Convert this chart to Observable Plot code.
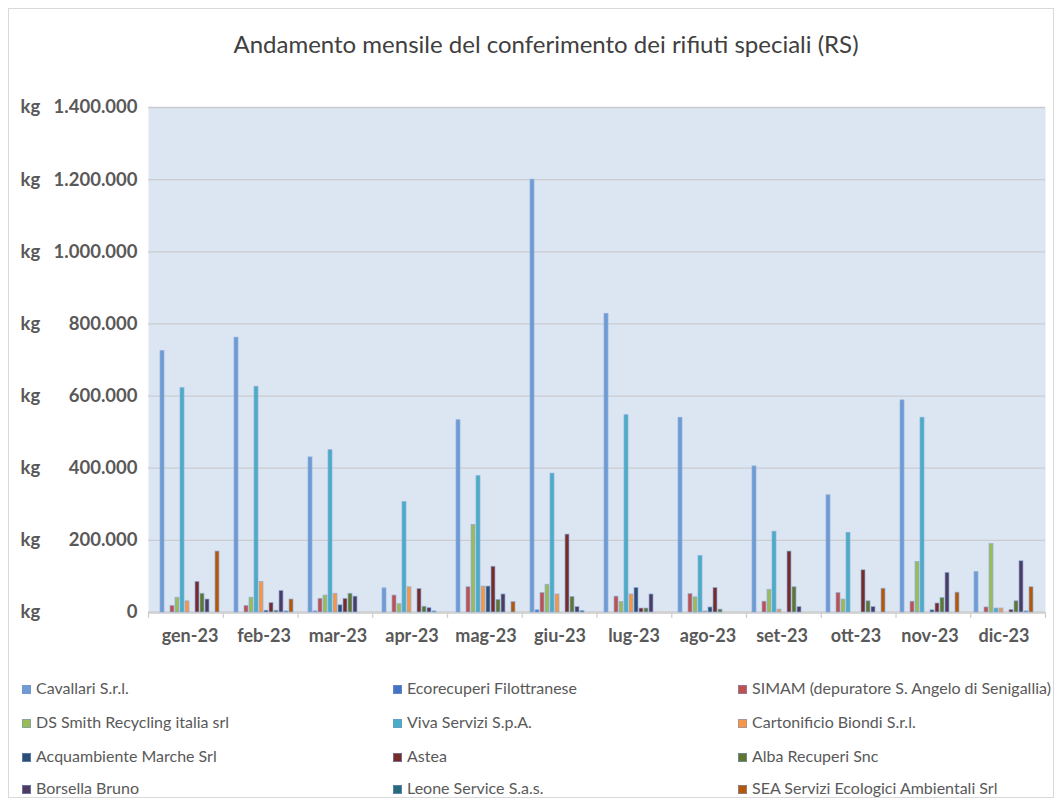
<!DOCTYPE html>
<html>
<head>
<meta charset="utf-8">
<script src="https://cdn.jsdelivr.net/npm/d3@7"></script>
<script src="https://cdn.jsdelivr.net/npm/@observablehq/plot@0.6"></script>
<style>
  html, body { margin: 0; padding: 0; background: #fff; }
  #page { position: relative; width: 1064px; height: 809px; font-family: Lato, "Liberation Sans", sans-serif; }
  #card { position: absolute; left: 8px; top: 8px; width: 1046px; height: 790px; border: 1px solid #d9d9d9; box-sizing: border-box; }
  #title { position: absolute; left: 14px; width: 1064px; top: 30px; text-align: center; font-size: 24px; line-height: 28px; color: #404040; }
  .layer { position: absolute; left: 0; top: 0; }
  .layer svg { background: transparent !important; }
  #legend { position: absolute; left: 0; top: 0; width: 1064px; }
  .li { position: absolute; font-size: 16px; color: #595959; white-space: nowrap; line-height: 18px; }
  .sw { display: inline-block; width: 9px; height: 9px; margin-right: 5px; vertical-align: 0px; box-sizing: border-box; border: 0.5px solid rgba(120,150,200,0.6); }
</style>
</head>
<body>
<div id="page">
  <div id="card"></div>
  <div id="title">Andamento mensile del conferimento dei rifiuti speciali (RS)</div>
  <div id="bg" class="layer"></div>
  <div id="bars" class="layer"></div>
  <div id="legend"></div>
</div>
<script>
const months = ["gen-23","feb-23","mar-23","apr-23","mag-23","giu-23","lug-23","ago-23","set-23","ott-23","nov-23","dic-23"];
const series = [
  "Cavallari S.r.l.",
  "Ecorecuperi Filottranese",
  "SIMAM (depuratore S. Angelo di Senigallia)",
  "DS Smith Recycling italia srl",
  "Viva Servizi S.p.A.",
  "Cartonificio Biondi S.r.l.",
  "Acquambiente Marche Srl",
  "Astea",
  "Alba Recuperi Snc",
  "Borsella Bruno",
  "Leone Service S.a.s.",
  "SEA Servizi Ecologici Ambientali Srl"
];
const colors = ["#6f9bd4","#4472c4","#c0504d","#9bbb59","#4bacc6","#f79646","#2c4d75","#772c2a","#5f7530","#4d3b62","#276a7c","#b65708"];
const yTicks = [0, 200000, 400000, 600000, 800000, 1000000, 1200000, 1400000];

const cavallari    = [725000, 762000, 430000, 67000, 533000, 1200000, 828000, 540000, 405000, 325000, 588000, 112000];
const ecorecuperi  = [0, 0, 3000, 0, 0, 6000, 0, 0, 0, 0, 0, 0];
const simam        = [18000, 18000, 38000, 47000, 70000, 54000, 44000, 51000, 30000, 54000, 30000, 14000];
const dsSmith      = [41000, 41000, 47000, 23000, 243000, 77000, 29000, 42000, 63000, 36000, 140000, 190000];
const viva         = [622000, 626000, 450000, 306000, 378000, 385000, 547000, 157000, 224000, 221000, 540000, 11000];
const cartonificio = [31000, 85000, 52000, 70000, 72000, 50000, 50000, 3000, 8000, 0, 0, 11000];
const acquambiente = [0, 5000, 20000, 0, 72000, 0, 68000, 14000, 0, 0, 6000, 0];
const astea        = [85000, 26000, 38000, 65000, 127000, 216000, 11000, 68000, 169000, 117000, 25000, 7000];
const alba         = [52000, 5000, 52000, 16000, 35000, 43000, 11000, 8000, 70000, 31000, 40000, 31000];
const borsella     = [36000, 60000, 44000, 12000, 50000, 15000, 50000, 0, 15000, 15000, 110000, 142000];
const leone        = [0, 3000, 0, 3000, 0, 4000, 0, 0, 0, 0, 0, 3000];
const sea          = [169000, 36000, 0, 0, 29000, 0, 0, 0, 0, 66000, 55000, 70000];

const valueLists = [cavallari, ecorecuperi, simam, dsSmith, viva, cartonificio, acquambiente, astea, alba, borsella, leone, sea];

const data = [];
series.forEach((s, si) => months.forEach((m, mi) => {
  const v = valueLists[si][mi];
  if (v > 0) data.push({month: m, series: s, value: v});
}));

const itLocale = d3.formatLocale({decimal: ",", thousands: ".", grouping: [3], currency: ["", ""]});
const fmt = itLocale.format(",d");

const W = 1064, H = 660;
const M = {marginLeft: 148, marginRight: 19, marginTop: 107, marginBottom: 48};
const font = "Lato, 'Liberation Sans', sans-serif";

const bg = Plot.plot({
  width: W, height: H, ...M,
  style: {fontFamily: font, background: "transparent", overflow: "visible"},
  x: {domain: [0, 12], axis: null},
  y: {domain: [0, 1400000], axis: null},
  marks: [
    Plot.frame({fill: "#dce6f2", stroke: null}),
    Plot.gridY(yTicks, {stroke: "#c9ccd1", strokeOpacity: 1, strokeWidth: 1.3}),
    Plot.axisX(d3.range(13), {tickSize: 6, tickFormat: () => "", stroke: "#d0d0d0", strokeWidth: 1.3}),
    Plot.ruleY([0], {stroke: "#d0d0d0", strokeWidth: 2.5}),
    Plot.axisY(yTicks, {tickSize: 0, tickPadding: 11, tickFormat: fmt, fontSize: 18.5, fontWeight: "bold", fill: "#595959"}),
    Plot.text(yTicks, {y: d => d, frameAnchor: "left", dx: -128, text: () => "kg", textAnchor: "start", fontSize: 18.5, fontWeight: "bold", fill: "#595959"})
  ]
});
document.getElementById("bg").appendChild(bg);

const bars = Plot.plot({
  width: W, height: H, ...M,
  style: {fontFamily: font, background: "transparent", overflow: "visible"},
  fx: {domain: months, paddingInner: 0.12, paddingOuter: 0.05, label: null, axis: null},
  x: {domain: series, axis: null, paddingInner: 0.2, paddingOuter: 0.1},
  y: {domain: [0, 1400000], axis: null},
  color: {domain: series, range: colors},
  marks: [
    Plot.barY(data, {fx: "month", x: "series", y: "value", fill: "series", stroke: "#8fb0dc", strokeWidth: 0.7}),
    Plot.axisFx({anchor: "bottom", tickSize: 0, tickPadding: 17, fontSize: 18, fontWeight: "bold", fill: "#595959", label: null})
  ]
});
document.getElementById("bars").appendChild(bars);

// Legend (3 columns x 4 rows)
const legend = document.getElementById("legend");
const colX = [22, 393, 738];
const rowY = [679, 713, 747, 779];
series.forEach((s, i) => {
  const d = document.createElement("div");
  d.className = "li";
  d.style.left = colX[i % 3] + "px";
  d.style.top = rowY[Math.floor(i / 3)] + "px";
  d.innerHTML = `<span class="sw" style="background:${colors[i]}"></span>${s}`;
  legend.appendChild(d);
});
</script>
</body>
</html>
